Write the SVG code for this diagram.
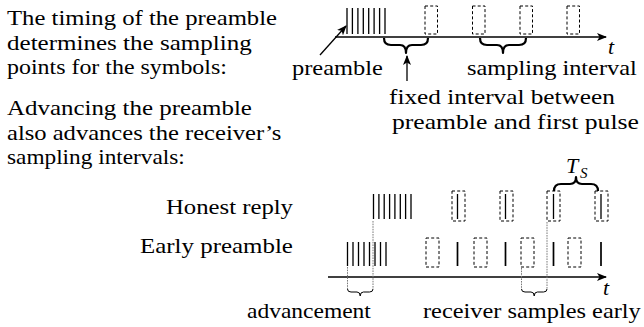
<svg xmlns="http://www.w3.org/2000/svg" width="644" height="327" viewBox="0 0 644 327">
<defs>
<marker id="ah" markerWidth="11" markerHeight="9" refX="9" refY="4.5" orient="auto" markerUnits="userSpaceOnUse">
<path d="M0,0.5 L10,4.5 L0,8.5 L2.5,4.5 z" fill="#000"/>
</marker>
</defs>

<g id="intro">
<text font-family="Liberation Serif" font-size="22" transform="translate(7,25) scale(1.122,1)">The timing of the preamble</text>
<text font-family="Liberation Serif" font-size="22" transform="translate(7,49.5) scale(1.139,1)">determines the sampling</text>
<text font-family="Liberation Serif" font-size="22" transform="translate(7,74) scale(1.088,1)">points for the symbols:</text>
<text font-family="Liberation Serif" font-size="22" transform="translate(7,115) scale(1.133,1)">Advancing the preamble</text>
<text font-family="Liberation Serif" font-size="22" transform="translate(7,140) scale(1.117,1)">also advances the receiver’s</text>
<text font-family="Liberation Serif" font-size="22" transform="translate(7,164) scale(1.059,1)">sampling intervals:</text>
</g>

<g id="top-timeline">
<path stroke="#000" stroke-width="1.3" fill="none" d="M347,8V34 M352.4,8V34 M357.9,8V34 M363.3,8V34 M368.7,8V34 M374.1,8V34 M379.6,8V34 M385,8V34"/>
<g stroke="#000" stroke-width="1" fill="none" stroke-dasharray="3 2.2">
<rect x="425" y="6" width="12.5" height="28"/>
<rect x="472.5" y="6" width="12.5" height="28"/>
<rect x="520" y="6" width="12.5" height="28"/>
<rect x="567" y="6" width="12.5" height="28"/>
</g>
<text font-family="Liberation Serif" font-size="22" font-style="italic" x="608" y="54">t</text>
</g>

<g id="label-preamble">
<text font-family="Liberation Serif" font-size="22" transform="translate(292,75) scale(1.111,1)">preamble</text>
</g>
<g id="label-sampling-interval">
<text font-family="Liberation Serif" font-size="22" transform="translate(467,75) scale(1.108,1)">sampling interval</text>
</g>
<g id="label-fixed-interval">
<text font-family="Liberation Serif" font-size="22" transform="translate(389,104) scale(1.149,1)">fixed interval between</text>
<text font-family="Liberation Serif" font-size="22" transform="translate(392,128.5) scale(1.165,1)">preamble and first pulse</text>
</g>

<g id="honest-row">
<text font-family="Liberation Serif" font-size="22" transform="translate(166,214) scale(1.124,1)">Honest reply</text>
<path stroke="#000" stroke-width="1.3" fill="none" d="M373.5,194V219 M378.9,194V219 M384.2,194V219 M389.6,194V219 M394.9,194V219 M400.3,194V219 M405.6,194V219 M411,194V219"/>
<g stroke="#000" stroke-width="1" fill="none" stroke-dasharray="3 2.2">
<rect x="452" y="191" width="13" height="30"/>
<rect x="500" y="191" width="13" height="30"/>
<rect x="547" y="191" width="13" height="30"/>
<rect x="595" y="191" width="13" height="30"/>
</g>
<path stroke="#000" stroke-width="1.3" fill="none" d="M457.5,194V219 M505.5,194V219 M553.5,194V219 M601,194V219"/>
<text font-family="Liberation Serif" font-size="22" font-style="italic" x="566" y="173">T</text>
<text font-family="Liberation Serif" font-size="15" font-style="italic" x="580" y="177.5">S</text>
</g>

<g id="early-row">
<text font-family="Liberation Serif" font-size="22" transform="translate(140,253) scale(1.133,1)">Early preamble</text>
<path stroke="#000" stroke-width="1.3" fill="none" d="M347.5,242V266 M353,242V266 M358.5,242V266 M364,242V266 M369.5,242V266 M375,242V266 M380.5,242V266 M386,242V266"/>
<g stroke="#000" stroke-width="1" fill="none" stroke-dasharray="3 2.2">
<rect x="426" y="238" width="13" height="29"/>
<rect x="474" y="238" width="13" height="29"/>
<rect x="521" y="238" width="13" height="29"/>
<rect x="568" y="238" width="13" height="29"/>
</g>
<path stroke="#000" stroke-width="1.7" fill="none" d="M457.5,242V266 M505.5,242V266 M553.5,242V266 M601,242V266"/>
<text font-family="Liberation Serif" font-size="22" font-style="italic" x="603" y="295">t</text>
</g>

<g id="label-advancement">
<text font-family="Liberation Serif" font-size="22" transform="translate(247,318) scale(1.068,1)">advancement</text>
</g>
<g id="label-receiver-early">
<text font-family="Liberation Serif" font-size="22" transform="translate(423,318) scale(1.108,1)">receiver samples early</text>
</g>

<g id="connectors" fill="none">
<g stroke="#000" stroke-width="1.3">
<line x1="335" y1="37" x2="606" y2="37" marker-end="url(#ah)"/>
<line x1="328" y1="277" x2="606" y2="277" marker-end="url(#ah)"/>
<line x1="320" y1="55" x2="346" y2="26" marker-end="url(#ah)"/>
<line x1="407" y1="81" x2="407" y2="56" marker-end="url(#ah)"/>
</g>
<g stroke="#000" stroke-width="2.2" stroke-linejoin="round">
<path d="M384,38 Q384,45 391,45 L400,45 Q406,45 406,53 Q406,45 412,45 L421,45 Q428,45 428,38"/>
<path d="M480,38 Q480,45 487,45 L497,45 Q503,45 503,53 Q503,45 509,45 L519,45 Q526,45 526,38"/>
<path d="M554,191 Q554,184 561,184 L570,184 Q576,184 576,177 Q576,184 582,184 L591,184 Q598,184 598,191"/>
</g>
<g stroke="#7a7a7a" stroke-width="1" stroke-dasharray="1.6 1">
<line x1="373" y1="221" x2="373" y2="289"/>
<line x1="347.5" y1="267" x2="347.5" y2="289"/>
<line x1="547" y1="222" x2="547" y2="289"/>
<line x1="521.5" y1="268" x2="521.5" y2="289"/>
</g>
<g stroke="#000" stroke-width="1">
<path d="M347.5,289 Q347.5,292 351,292 L357,292 Q360.2,292 360.2,296 Q360.2,292 363.4,292 L369.5,292 Q373,292 373,289"/>
<path d="M521.5,289 Q521.5,292 525,292 L531,292 Q534.2,292 534.2,296 Q534.2,292 537.4,292 L543.5,292 Q547,292 547,289"/>
</g>
</g>
</svg>
